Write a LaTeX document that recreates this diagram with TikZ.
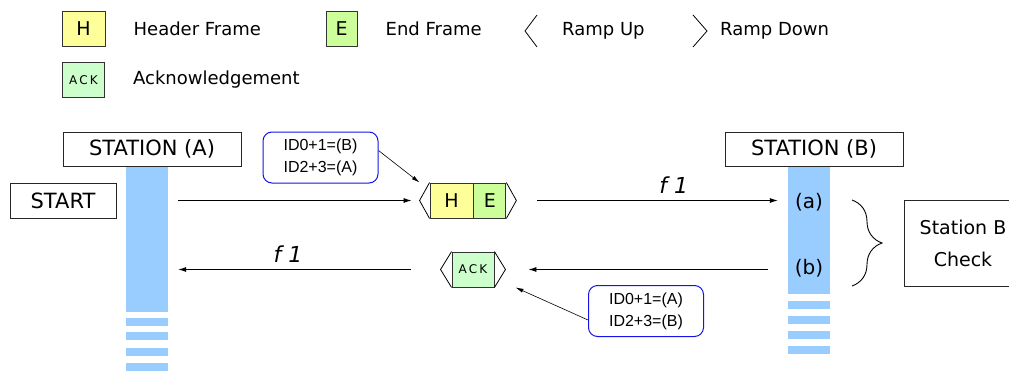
\documentclass[tikz,border=0pt]{standalone}
\usepackage{fontspec}
\setmainfont{DejaVu Sans}
\newfontfamily\idfont{Liberation Sans}
\usetikzlibrary{arrows.meta, positioning, decorations.pathreplacing}
\definecolor{hdryellow}{RGB}{255,255,153}
\definecolor{endgreen}{RGB}{204,255,153}
\definecolor{ackgreen}{RGB}{204,255,204}
\definecolor{barblue}{RGB}{153,204,255}
\definecolor{idblue}{RGB}{20,20,230}

\begin{document}
\begin{tikzpicture}[x=1pt, y=-1pt,
        txt/.style={font=\fontsize{18}{22}\selectfont, inner sep=0pt, anchor=west},
        frm/.style={draw=black!80, line width=0.9pt, minimum height=35pt,
                    inner sep=0pt, font=\fontsize{19}{22}\selectfont},
        hdr/.style={frm, fill=hdryellow, minimum width=43pt},
        eof/.style={frm, fill=endgreen, minimum width=32pt},
        ack/.style={frm, fill=ackgreen, minimum width=42pt,
                    font=\fontsize{12}{14}\selectfont\addfontfeature{LetterSpace=18}},
        lbl/.style={draw=black!85, line width=0.9pt, inner sep=0pt,
                    font=\fontsize{21}{25}\selectfont},
        bar/.style={fill=barblue, minimum width=42pt, inner sep=0pt},
        idbox/.style={draw=idblue, line width=1pt, rounded corners=9pt,
                      minimum width=115pt, minimum height=51pt, align=center,
                      font=\idfont\fontsize{16}{22}\selectfont},
        ramp/.style={line width=0.8pt},
        arr/.style={-{Latex[length=8pt,width=5pt]}, line width=0.8pt},
        ptr/.style={-{Latex[length=8pt,width=4pt]}, line width=0.6pt},
        fl/.style={font=\fontsize{22}{24}\selectfont\itshape, above=3pt}]
      \useasboundingbox (0,0) rectangle (1009,370);
      \clip (0,0) rectangle (1009,370);
      % legend
      \node[hdr] (legH) at (83.5,29) {H};
      \node[txt, right=28pt of legH] (legHt) {Header Frame};
      \node[eof, minimum width=31pt] (legE) at (341.5,29) {E};
      \node[txt, right=28pt of legE] (legEt) {End Frame};
      \draw[ramp] (537,15) -- (525,31) -- (537,47);
      \node[txt] (legUp) at (562,31) {Ramp Up};
      \draw[ramp] (693,15) -- (707,31) -- (693,47);
      \node[txt] (legDown) at (720,31) {Ramp Down};
      \node[ack] (legAck) at (83.5,80) {ACK};
      \node[txt, right=28pt of legAck] (legAckt) {Acknowledgement};
      % stations
      \node[lbl, minimum width=178pt, minimum height=34pt] (staA) at (152,149) {STATION (A)};
      \node[lbl, minimum width=178pt, minimum height=34pt] (staB) at (814,149) {STATION (B)};
      \node[lbl, minimum width=106pt, minimum height=35pt] (start) at (63,200.5) {START};
      \node[bar, minimum height=145pt, below=0pt of staA, xshift=-5pt] (barA) {};
      \node[bar, minimum height=127pt, below=0pt of staB, xshift=-5pt] (barB) {};
      \foreach \y in {318,332,348,363} \fill[barblue] (126,\y) rectangle (168,\y+8);
      \foreach \y in {301,316,331,346} \fill[barblue] (788,\y) rectangle (830,\y+7.5);
      \node[font=\fontsize{20}{24}\selectfont] (ra) at (809,202) {(a)};
      \node[font=\fontsize{20}{24}\selectfont] (rb) at (809,268) {(b)};
      % frames
      \node[hdr] (fH) at (451.5,200.5) {H};
      \node[eof, right=0pt of fH] (fE) {E};
      \coordinate (upH) at ([xshift=-10pt]fH.west);
      \coordinate (dnE) at ([xshift=10pt]fE.east);
      \draw[ramp] (fH.north west) -- (upH) -- (fH.south west);
      \draw[ramp] (fE.north east) -- (dnE) -- (fE.south east);
      \node[ack] (fAck) at (473,269.5) {ACK};
      \coordinate (upAck) at ([xshift=-11pt]fAck.west);
      \coordinate (dnAck) at ([xshift=11pt]fAck.east);
      \draw[ramp] (fAck.north west) -- (upAck) -- (fAck.south west);
      \draw[ramp] (fAck.north east) -- (dnAck) -- (fAck.south east);
      % transfers
      \draw[arr, shorten <=10pt, shorten >=8pt] (barA.east |- fH) -- (upH);
      \draw[arr, shorten <=21pt, shorten >=10pt] (dnE) -- node[fl, pos=0.58] {f 1} (barB.west |- fH);
      \draw[arr, shorten <=20pt, shorten >=23pt] (barB.west |- fAck) -- (dnAck);
      \draw[arr, shorten <=30pt, shorten >=10pt] (upAck) -- node[fl, pos=0.56] {f 1} (barA.east |- fAck);
      % ids
      \node[idbox] (idAB) at (320.5,157.5) {ID0+1=(B)\\ID2+3=(A)};
      \node[idbox] (idBA) at (646,311) {ID0+1=(A)\\ID2+3=(B)};
      \draw[ptr] ([yshift=7pt]idAB.east) -- (upH |- fH.north);
      \draw[ptr] ([yshift=-9pt]idBA.west) -- ([xshift=10pt]dnAck |- fAck.south);
      % check
      \draw[line width=0.9pt, decorate, decoration={brace, amplitude=30pt}] (852,200) -- (852,286);
      \node[lbl, minimum width=118pt, minimum height=86pt, align=center,
            font=\fontsize{19}{32}\selectfont] (chk) at (963,243) {Station B\\Check};
    \end{tikzpicture}
\end{document}
